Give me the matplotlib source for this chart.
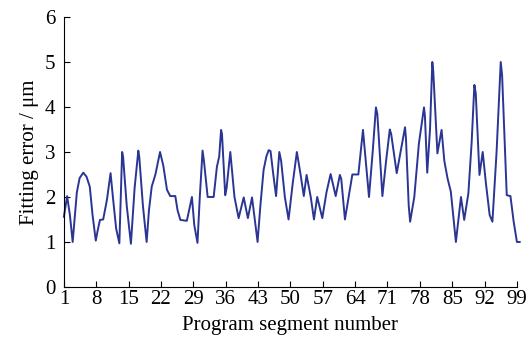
import matplotlib.pyplot as plt

segment = [1.0, 1.7, 2.3, 2.9, 3.3, 3.8, 4.4, 5.2, 5.9, 6.6, 7.2, 7.9, 8.3, 8.8, 9.5,
           10.3, 11.1, 11.6, 12.3, 13.0, 13.6, 13.8, 14.6, 15.5, 16.3, 17.1, 17.3, 18.1,
           18.9, 19.4, 20.0, 20.8, 21.8, 22.5, 23.3, 24.0, 25.1, 25.6, 26.2, 27.6, 28.7,
           29.2, 29.9, 30.4, 31.0, 31.3, 32.1, 33.4, 34.1, 34.6, 35.0, 35.2, 35.9, 36.2,
           37.0, 37.9, 38.8, 39.9, 40.8, 41.7, 42.3, 42.9, 43.5, 44.2, 44.8, 45.3, 45.7,
           46.3, 46.9, 47.6, 48.0, 48.8, 49.6, 50.5, 51.4, 52.2, 52.9, 53.5, 54.4, 55.1,
           55.8, 56.9, 57.8, 58.7, 59.8, 60.7, 61.0, 61.8, 62.6, 63.4, 64.7, 65.7, 66.3,
           67.0, 67.8, 68.5, 68.8, 69.9, 70.7, 71.5, 71.8, 73.0, 73.9, 74.8, 75.0, 75.6,
           75.9, 76.8, 77.8, 78.9, 79.1, 79.6, 80.2, 80.7, 80.9, 81.8, 82.7, 83.3, 84.0,
           84.7, 85.8, 86.9, 87.6, 88.5, 89.2, 89.8, 90.1, 90.9, 91.6, 92.3, 93.1, 93.7,
           94.6, 95.5, 95.8, 96.8, 97.6, 98.3, 99.0, 99.6]
fit_error = [1.56, 2.02, 1.6, 1.0, 1.5, 2.1, 2.42, 2.54, 2.45, 2.23, 1.6, 1.03, 1.25, 1.49, 1.5,
             1.93, 2.53, 2.0, 1.3, 0.97, 3.0, 2.9, 1.8, 0.96, 2.2, 3.03, 2.9, 1.8,
             1.0, 1.7, 2.23, 2.5, 3.0, 2.7, 2.16, 2.02, 2.02, 1.7, 1.49, 1.47, 2.0,
             1.38, 0.98, 2.0, 3.03, 2.8, 2.0, 2.0, 2.67, 2.9, 3.49, 3.4, 2.04, 2.2,
             3.0, 2.0, 1.53, 1.99, 1.53, 1.99, 1.5, 1.0, 1.8, 2.6, 2.9, 3.04, 3.02,
             2.5, 2.02, 3.0, 2.8, 2.0, 1.5, 2.3, 3.0, 2.5, 2.02, 2.49, 2.0, 1.5,
             2.0, 1.53, 2.1, 2.51, 2.02, 2.49, 2.4, 1.5, 2.0, 2.5, 2.5, 3.49, 2.8,
             2.0, 3.0, 3.99, 3.85, 2.02, 2.8, 3.5, 3.4, 2.53, 3.04, 3.55, 3.3, 1.8,
             1.45, 2.0, 3.19, 3.99, 3.8, 2.54, 3.5, 5.0, 4.8, 2.97, 3.49, 2.8, 2.41,
             2.12, 1.0, 2.0, 1.49, 2.08, 3.2, 4.49, 4.3, 2.49, 3.0, 2.3, 1.6, 1.45,
             3.0, 5.0, 4.7, 2.04, 2.02, 1.45, 1.0, 1.0]

x_ticks = list(range(1, 100, 7))
y_ticks = [0, 1, 2, 3, 4, 5, 6]

plt.rcParams['font.family'] = ['Liberation Serif', 'DejaVu Serif']

fig = plt.figure(figsize=(5.28, 3.4), dpi=100)
ax = fig.add_axes([0.121, 0.156, 0.858, 0.794])

ax.plot(segment, fit_error, color='#2b3593', linewidth=1.4, clip_on=False)

ax.set_xlim(1, 99)
ax.set_ylim(0, 6)
ax.set_xticks(x_ticks)
ax.set_yticks(y_ticks)
ax.tick_params(direction='in', length=4, width=0.8, labelsize=15)
ax.tick_params(axis='x', pad=2)
ax.tick_params(axis='y', pad=6)
ax.spines['top'].set_visible(False)
ax.spines['right'].set_visible(False)

ax.set_xlabel('Program segment number', fontsize=15, labelpad=5)
ax.set_ylabel('Fitting error / μm', fontsize=15, labelpad=4)

fig.savefig('out.png', dpi=100)
